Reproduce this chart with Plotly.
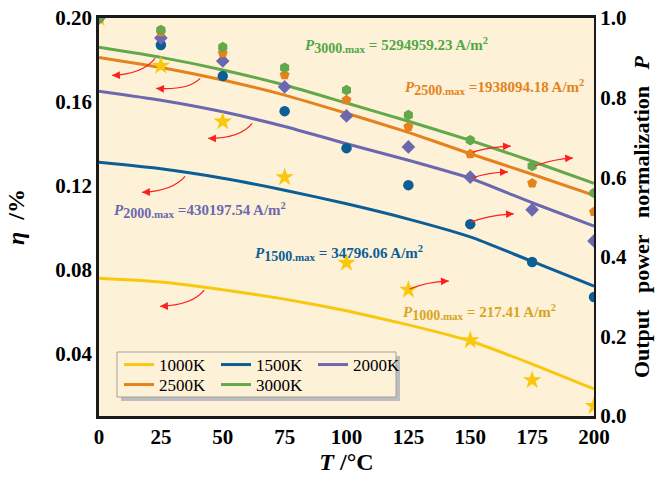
import plotly.graph_objects as go
import math

T = [0, 25, 50, 75, 100, 125, 150, 175, 200]
series_names = ["1000K", "1500K", "2000K", "2500K", "3000K"]
legend_rows = ["legend", "legend", "legend", "legend2", "legend2"]
colors = ["#F9C80E", "#0B5E96", "#6B68B0", "#E4821E", "#63A84A"]
text_colors = ["#D9A520", "#0B5E96", "#6B68B0", "#E4821E", "#4FA846"]
symbols = ["star", "circle", "diamond", "pentagon", "hexagon"]

# efficiency (left axis, lines)
eta_1000 = [0.0758, 0.0740, 0.0703, 0.0658, 0.0602, 0.0535, 0.0458, 0.0348, 0.0229]
eta_1500 = [0.1311, 0.1280, 0.1235, 0.1178, 0.1113, 0.1040, 0.0955, 0.0838, 0.0720]
eta_2000 = [0.1650, 0.1607, 0.1552, 0.1482, 0.1400, 0.1321, 0.1235, 0.1118, 0.1006]
eta_2500 = [0.1812, 0.1764, 0.1704, 0.1632, 0.1545, 0.1454, 0.1352, 0.1254, 0.1154]
eta_3000 = [0.1860, 0.1812, 0.1752, 0.1680, 0.1594, 0.1507, 0.1416, 0.1316, 0.1211]

# normalized output power (right axis, markers)
p_1000 = [1.0, 0.88, 0.74, 0.60, 0.385, 0.317, 0.19, 0.09, 0.025]
p_1500 = [1.0, 0.932, 0.854, 0.766, 0.673, 0.58, 0.482, 0.387, 0.299]
p_2000 = [1.0, 0.95, 0.892, 0.827, 0.754, 0.676, 0.60, 0.518, 0.44]
p_2500 = [1.0, 0.965, 0.912, 0.857, 0.794, 0.727, 0.658, 0.585, 0.513]
p_3000 = [1.0, 0.97, 0.927, 0.875, 0.819, 0.756, 0.693, 0.628, 0.56]

eta_all = [eta_1000, eta_1500, eta_2000, eta_2500, eta_3000]
p_all = [p_1000, p_1500, p_2000, p_2500, p_3000]

x_ticks = [0, 25, 50, 75, 100, 125, 150, 175, 200]
y_ticks = [0.04, 0.08, 0.12, 0.16, 0.20]
y_tick_text = ["0.04", "0.08", "0.12", "0.16", "0.20"]
y2_ticks = [0.0, 0.2, 0.4, 0.6, 0.8, 1.0]
y2_tick_text = ["0.0", "0.2", "0.4", "0.6", "0.8", "1.0"]

p_labels = [
    ("1000", "= 217.41 A/m<sup>2</sup>", 121.9, 0.0596),
    ("1500", "= 34796.06 A/m<sup>2</sup>", 62.3, 0.0877),
    ("2000", "=430197.54 A/m<sup>2</sup>", 5.3, 0.1082),
    ("2500", "=1938094.18 A/m<sup>2</sup>", 122.7, 0.1669),
    ("3000", "= 5294959.23 A/m<sup>2</sup>", 82.6, 0.1869),
]

# curved arrows: (start, control, end) in data coords
arrows_left = [
    ((22.7, 0.1807), (17.4, 0.1731), (5.3, 0.1726)),
    ((40.9, 0.1712), (36.0, 0.1654), (23.1, 0.1664)),
    ((61.9, 0.1497), (57.1, 0.1425), (44.1, 0.1425)),
    ((34.8, 0.1244), (29.6, 0.1173), (17.4, 0.1168)),
    ((42.5, 0.0701), (37.7, 0.0629), (24.7, 0.0624)),
]
arrows_right = [
    ((151.0, 0.663), (157.5, 0.676), (166.4, 0.678)),
    ((176.1, 0.628), (183.4, 0.646), (191.5, 0.648)),
    ((150.6, 0.598), (157.5, 0.613), (165.2, 0.613)),
    ((150.2, 0.487), (157.5, 0.505), (167.6, 0.508)),
    ((125.5, 0.319), (132.0, 0.337), (141.3, 0.339)),
]

FONT = "Liberation Serif, Times New Roman, serif"
W, H = 668, 479
ML, MR, MT, MB = 99, 74, 18, 63
Y_RANGE = [0.01, 0.20]
Y2_RANGE = [0.0, 1.0]
X_RANGE = [0, 200]

fig = go.Figure()

for i, name in enumerate(series_names):
    fig.add_trace(go.Scatter(
        x=T, y=eta_all[i], mode="lines", name=name, legend=legend_rows[i],
        line=dict(color=colors[i], width=3, shape="spline", smoothing=0.5),
        yaxis="y",
    ))

for i, name in enumerate(series_names):
    fig.add_trace(go.Scatter(
        x=T, y=p_all[i], mode="markers", name=name, showlegend=False,
        marker=dict(symbol=symbols[i], color=colors[i],
                    size=14 if symbols[i] == "star" else 10.5,
                    line=dict(width=0)),
        yaxis="y2",
    ))

pw = W - ML - MR
ph = H - MT - MB
sx = pw / (X_RANGE[1] - X_RANGE[0])
sy = ph / (Y_RANGE[1] - Y_RANGE[0])
sy2 = ph / (Y2_RANGE[1] - Y2_RANGE[0])

shapes = []
annotations = []

def add_arrow(s, c, e, yref, scale):
    shapes.append(dict(
        type="path", xref="x", yref=yref,
        path=f"M {s[0]},{s[1]} Q {c[0]},{c[1]} {e[0]},{e[1]}",
        line=dict(color="#FF1E1E", width=1.2), layer="above",
    ))
    dx = (c[0] - e[0]) * sx
    dy = -(c[1] - e[1]) * scale
    n = math.hypot(dx, dy) or 1
    L = 7
    annotations.append(dict(
        x=e[0], y=e[1], xref="x", yref=yref, ax=dx / n * L, ay=dy / n * L,
        showarrow=True, arrowhead=2, arrowsize=1.3, arrowwidth=1.2,
        arrowcolor="#FF1E1E", text="", standoff=0, startstandoff=0,
    ))

for s, c, e in arrows_left:
    add_arrow(s, c, e, "y", sy)
for s, c, e in arrows_right:
    add_arrow(s, c, e, "y2", sy2)

for i, (sub, rest, xx, yy) in enumerate(p_labels):
    annotations.append(dict(
        x=xx, y=yy, xref="x", yref="y", xanchor="left", yanchor="middle",
        showarrow=False,
        text=(f"<i>P</i><sub><span style='font-size:14px'>{sub}</span>"
              f"<span style='font-size:11px'>.max</span></sub> {rest}"),
        font=dict(family=FONT, size=15, color=text_colors[i], weight="bold"),
    ))

# legend box (background, border, shadow) in paper coords
def px_x(p):
    return (p - ML) / pw

def px_y(p):
    return (H - MB - p) / ph

lx0, lx1 = px_x(117), px_x(396)
ly_top, ly_bot = px_y(352), px_y(397)
shapes.append(dict(type="rect", xref="paper", yref="paper",
                   x0=px_x(121), x1=px_x(400), y0=px_y(401), y1=px_y(356),
                   fillcolor="#BDBDBD", line=dict(width=0), layer="above"))
shapes.append(dict(type="rect", xref="paper", yref="paper",
                   x0=lx0, x1=lx1, y0=ly_bot, y1=ly_top,
                   fillcolor="#FDF2D8", line=dict(color="#A0A0A0", width=1),
                   layer="above"))

leg_common = dict(
    orientation="h", xanchor="left", yanchor="top",
    bgcolor="rgba(0,0,0,0)", borderwidth=0,
    font=dict(family=FONT, size=17, color="black"),
    entrywidth=52, entrywidthmode="pixels",
    traceorder="normal", tracegroupgap=0, itemwidth=30,
)

fig.update_layout(
    width=W, height=H,
    margin=dict(l=ML, r=MR, t=MT, b=MB, autoexpand=False),
    paper_bgcolor="white",
    plot_bgcolor="#FDF2D8",
    font=dict(family=FONT, color="black"),
    shapes=shapes,
    annotations=annotations,
    showlegend=True,
    legend=dict(x=px_x(119), y=px_y(347), **leg_common),
    legend2=dict(x=px_x(119), y=px_y(367), **leg_common),
    xaxis=dict(
        range=X_RANGE, tickvals=x_ticks, ticktext=[str(v) for v in x_ticks],
        showgrid=False, zeroline=False, showline=True, linewidth=2.5,
        linecolor="#1A1A1A", mirror=True, ticks="",
        tickfont=dict(family=FONT, size=21, weight="bold"),
        title=dict(text="<i>T</i> /°C", font=dict(family=FONT, size=24, weight="bold"),
                   standoff=4),
        automargin=False,
    ),
    yaxis=dict(
        range=Y_RANGE, tickvals=y_ticks, ticktext=y_tick_text,
        showgrid=False, zeroline=False, showline=True, linewidth=2.5,
        linecolor="#1A1A1A", ticks="",
        tickfont=dict(family=FONT, size=21, weight="bold"),
        title=dict(text="<i>η</i>\u00a0\u00a0/%", font=dict(family=FONT, size=24, weight="bold"),
                   standoff=24),
        automargin=False,
    ),
    yaxis2=dict(
        range=Y2_RANGE, tickvals=y2_ticks, ticktext=y2_tick_text,
        overlaying="y", side="right",
        showgrid=False, zeroline=False, showline=True, linewidth=2,
        linecolor="#1A1A1A", ticks="",
        tickfont=dict(family=FONT, size=21, weight="bold"),
        title=dict(text="Output\u00a0\u00a0\u00a0power\u00a0\u00a0\u00a0normalization\u00a0\u00a0\u00a0<i>P</i>",
                   font=dict(family=FONT, size=22, weight="bold"), standoff=8),
        automargin=False,
    ),
)

fig.write_html("out.html", config={"displayModeBar": False},
               post_script="document.body.style.margin='0px';")
